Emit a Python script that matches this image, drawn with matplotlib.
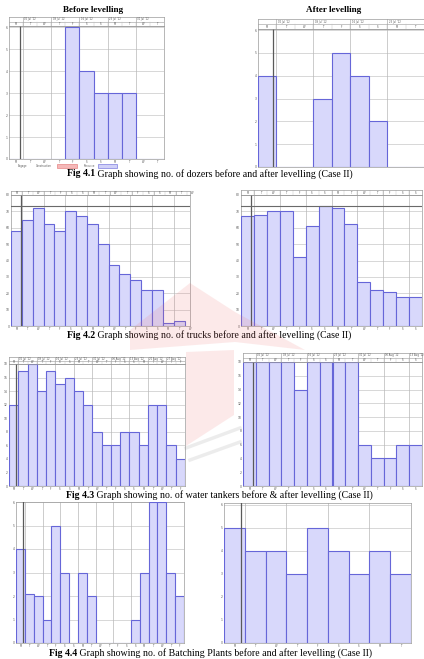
"""
Resource graphs (Case II): equipment count per period before and after
levelling, four figures stacked on one page.
"""

import numpy as np
import matplotlib.pyplot as plt
from matplotlib.patches import Polygon, Rectangle

W, H = 424, 659

# bar heights
dozers_before = [0, 0, 0, 0, 6, 4, 3, 3, 3, 0, 0]
dozers_after = [4, 0, 0, 3, 5, 4, 2, 0, 0]
trucks_before = [58, 65, 72, 62, 58, 70, 67, 62, 50, 37, 32, 28, 22, 22, 2, 3]
trucks_after = [67, 68, 70, 70, 42, 61, 73, 72, 62, 27, 22, 21, 18, 18]
tankers_before = [12, 17, 18, 14, 17, 15, 16, 14, 12, 8, 6, 6, 8, 8, 6, 12, 12, 6, 4]
tankers_after = [18, 18, 18, 18, 14, 18, 18, 18, 18, 6, 4, 4, 6, 6]
batching_before = [4, 2.1, 2, 1, 5, 3, 0, 3, 2, 0, 0, 0, 0, 1, 3, 6, 6, 3, 2]
batching_after = [5, 4, 4, 3, 5, 4, 3, 4, 3]
trucks_limit = 73

day_letters = ['M', 'T', 'W', 'T', 'F', 'S', 'S']
week_labels = ["02 Jul '12", "09 Jul '12", "16 Jul '12", "23 Jul '12",
               "30 Jul '12", "06 Aug '12", "13 Aug '12", "20 Aug '12",
               "27 Aug '12", "03 Sep '12"]
legend_items = ['Engage', 'Construction', 'Resource']

column_titles = ['Before levelling', 'After levelling']
fig_numbers = ['Fig 4.1', 'Fig 4.2', 'Fig 4.3', 'Fig 4.4']
caption_texts = [
    ' Graph showing no. of dozers before and after levelling (Case II)',
    ' Graph showing no. of trucks before and after levelling (Case II)',
    ' Graph showing no. of water tankers before & after levelling (Case II)',
    ' Graph showing no. of Batching Plants before and after levelling (Case II)',
]

BAR_FILL = '#d8d8fb'
BAR_EDGE = '#6666d8'
SERIF = 'Liberation Serif'


def px_rect(x0, y0, x1, y1):
    """Pixel box (top-left origin) -> figure fraction rect."""
    return [x0 / W, 1 - y1 / H, (x1 - x0) / W, (y1 - y0) / H]


def draw_header(fig, box, xmax, rows=2):
    """Timescale band drawn above a resource graph."""
    ax = fig.add_axes(px_rect(*box))
    ax.set_xlim(0, xmax)
    ax.set_ylim(0, rows)
    ax.set_xticks([])
    ax.set_yticks([])
    for s in ax.spines.values():
        s.set_color('#9a9a9a')
        s.set_linewidth(0.5)
    if rows == 2:
        ax.axhline(1, color='#9a9a9a', lw=0.4)
    for v in range(1, int(xmax) + 1, 2):
        ax.axvline(v, color='#9a9a9a', lw=0.4)
    for i in range(int(np.ceil(xmax))):
        ax.plot([i, i], [0, 1], color='#c0c0c0', lw=0.3)
        ax.text(i + 0.5, 0.5, day_letters[i % 7], fontsize=1.8,
                ha='center', va='center', color='#555555')
    if rows == 2:
        for k, v in enumerate(range(1, int(xmax), 2)):
            ax.text(v + 0.1, 1.5, week_labels[k % len(week_labels)],
                    fontsize=1.8, ha='left', va='center', color='#555555')
    return ax


def draw_panel(fig, box, values, xmax, ytop, ystep, marker=0.8,
               limit=None, header=2, header_h=8, xlabels=True):
    """One resource histogram with its grid and timescale."""
    ax = fig.add_axes(px_rect(*box))
    x = np.arange(len(values))
    ax.bar(x, values, width=1, align='edge', color=BAR_FILL,
           edgecolor=BAR_EDGE, linewidth=0.8, zorder=3)
    ax.set_xlim(0, xmax)
    ax.set_ylim(0, ytop)

    yt = np.arange(0, ytop + 1e-6, ystep)
    ax.set_yticks(yt)
    ax.set_yticklabels(['%g' % t for t in yt], fontsize=2.2, color='#555555')
    n = int(np.ceil(xmax))
    ax.set_xticks(np.arange(n) + 0.5)
    if xlabels:
        ax.set_xticklabels([day_letters[i % 7] for i in range(n)],
                           fontsize=1.8, color='#555555')
    else:
        ax.set_xticklabels([])
    ax.tick_params(length=0, pad=1)

    for t in yt:
        ax.axhline(t, color='#c8c8c8', lw=0.5, zorder=1)
    for v in range(1, int(xmax) + 1, 2):
        ax.axvline(v, color='#b8b8b8', lw=0.5, zorder=1)
    ax.axvline(marker, color='#5a5a5a', lw=0.9, zorder=4)
    if limit is not None:
        ax.axhline(limit, color='#6a6a6a', lw=0.8, zorder=4)

    for s in ax.spines.values():
        s.set_color('#9a9a9a')
        s.set_linewidth(0.5)

    if header:
        x0, y0, x1, y1 = box
        draw_header(fig, (x0, y0 - header_h, x1, y0), xmax, rows=header)
    return ax


fig = plt.figure(figsize=(W / 100, H / 100), dpi=100)
fig.patch.set_facecolor('white')

# Fig 4.1 dozers
draw_panel(fig, (9, 26, 164, 159), dozers_before, 11, 6.05, 1, header=2, header_h=9)
draw_panel(fig, (258, 29, 424, 167), dozers_after, 9, 6.05, 1, header=2, header_h=10,
           xlabels=False)

# Fig 4.2 trucks
draw_panel(fig, (11, 195, 190, 326), trucks_before, 16.3, 80, 10,
           marker=0.9, limit=trucks_limit, header=1, header_h=4)
draw_panel(fig, (241, 195, 422, 326), trucks_after, 14, 80, 10,
           limit=trucks_limit, header=1, header_h=5)

# Fig 4.3 water tankers
draw_panel(fig, (9, 364, 185, 486), tankers_before, 19, 18, 2, header=2, header_h=7)
draw_panel(fig, (243, 362, 422, 486), tankers_after, 14, 18, 2, header=2, header_h=9)

# Fig 4.4 batching plants
draw_panel(fig, (16, 502, 184, 643), batching_before, 19, 6, 1, marker=0.75, header=0)
draw_panel(fig, (224, 503, 411, 643), batching_after, 9, 6.07, 1, header=0)

# legend strip below the first graph
ly = 1 - 166 / H
fig.text(18 / W, ly, legend_items[0], fontsize=1.8, color='#555555', va='center')
fig.text(36 / W, ly, legend_items[1], fontsize=1.8, color='#555555', va='center')
fig.text(84 / W, ly, legend_items[2], fontsize=1.8, color='#555555', va='center')
fig.patches.append(Rectangle((57 / W, ly - 2 / H), 20 / W, 4 / H, transform=fig.transFigure,
                             facecolor='#f5b8b8', edgecolor='#e07070', lw=0.4))
fig.patches.append(Rectangle((98 / W, ly - 2 / H), 19 / W, 4 / H, transform=fig.transFigure,
                             facecolor='#d0d0f8', edgecolor='#6262d8', lw=0.4))

# column titles
fig.text(93 / W, 1 - 10 / H, column_titles[0], fontsize=6.6, fontweight='bold',
         family=SERIF, ha='center', va='center')
fig.text(334 / W, 1 - 10 / H, column_titles[1], fontsize=6.6, fontweight='bold',
         family=SERIF, ha='center', va='center')

# captions: bold figure number followed by plain text
caption_y = [174, 335, 495, 653]
caption_x = [67, 67, 66, 49]
fig.canvas.draw()
for num, txt, cy, cx in zip(fig_numbers, caption_texts, caption_y, caption_x):
    t1 = fig.text(cx / W, 1 - cy / H, num, fontsize=7.1, fontweight='bold',
                  family=SERIF, ha='left', va='center')
    bb = t1.get_window_extent(renderer=fig.canvas.get_renderer())
    fig.text(bb.x1 / W, 1 - cy / H, txt, fontsize=7.1, family=SERIF,
             ha='left', va='center')

# faint journal watermark over the middle of the page
wm = fig.add_axes([0, 0, 1, 1], zorder=10)
wm.set_xlim(0, W)
wm.set_ylim(H, 0)
wm.axis('off')
wm.add_patch(Polygon([(190, 283), (235, 312), (305, 350), (235, 342), (130, 350), (130, 330)],
                     closed=True, facecolor='#ee6a6a', alpha=0.14, lw=0))
wm.add_patch(Polygon([(186, 352), (234, 350), (234, 415), (186, 446)],
                     closed=True, facecolor='#ee6a6a', alpha=0.14, lw=0))
wm.plot([186, 240], [448, 428], color='#9a9a9a', lw=2.5, alpha=0.18)
wm.plot([190, 240], [460, 442], color='#9a9a9a', lw=2.5, alpha=0.18)

fig.savefig('out.png', dpi=100)
